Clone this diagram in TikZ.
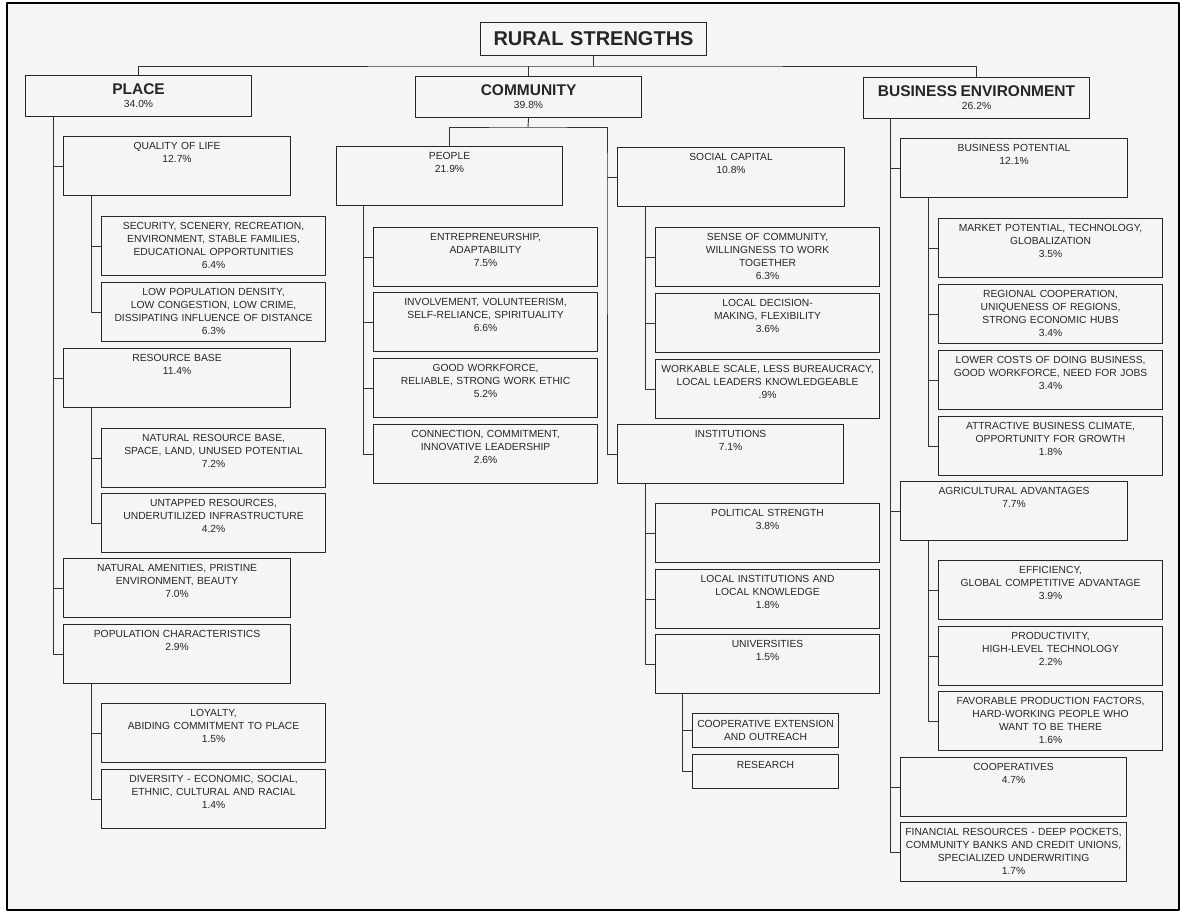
\documentclass[tikz,border=0pt]{standalone}
\usepackage{fontspec}
\setmainfont{Liberation Sans}
\begin{document}
\begin{tikzpicture}[x=1pt,y=-1pt,line join=round,
 box/.style={draw=black!85,line width=1.1pt,anchor=north west,inner sep=0pt,
  text width=#1pt,align=center,text height=13pt,text depth=46pt,text=black!85,
  font=\fontsize{10.3}{13}\selectfont},
 box/.default=224,
 head/.style={box=226,text height=19pt,text depth=22pt},
 small/.style={box=146,text height=14pt,text depth=20pt},
 ttl/.style={box=226,text height=23pt,text depth=10pt,font=\bfseries\fontsize{20}{24}\selectfont},
 link/.style={draw=black!80,line width=.9pt}]
 \fill[white,use as bounding box](0,0)rectangle(1186,913);
 \draw[line width=2.5pt,fill=black!4](7,3)rectangle(1179,910);

 \node[ttl](title) at (480,22){RURAL STRENGTHS};
 \node[head](place) at (25,75){{\bfseries\fontsize{15.5}{13}\selectfont PLACE}\\34.0\%};
 \node[head](comm) at (415,76){{\bfseries\fontsize{15.5}{13}\selectfont COMMUNITY}\\39.8\%};
 \node[head](busenv) at (863,77){{\bfseries\fontsize{15.5}{13}\selectfont BUSINESS ENVIRONMENT}\\26.2\%};

 \node[box=227](qol) at (63,136){QUALITY OF LIFE\\12.7\%};
 \node[box](security) at (101,216){SECURITY, SCENERY, RECREATION,\\ENVIRONMENT, STABLE FAMILIES,\\EDUCATIONAL OPPORTUNITIES\\6.4\%};
 \node[box](lowpop) at (101,282){LOW POPULATION DENSITY,\\LOW CONGESTION, LOW CRIME,\\DISSIPATING INFLUENCE OF DISTANCE\\6.3\%};
 \node[box=227](resbase) at (63,348){RESOURCE BASE\\11.4\%};
 \node[box](natres) at (101,428){NATURAL RESOURCE BASE,\\SPACE, LAND, UNUSED POTENTIAL\\7.2\%};
 \node[box](untapped) at (101,493){UNTAPPED RESOURCES,\\UNDERUTILIZED INFRASTRUCTURE\\4.2\%};
 \node[box=227](natamen) at (63,558){NATURAL AMENITIES, PRISTINE\\ENVIRONMENT, BEAUTY\\7.0\%};
 \node[box=227](popchar) at (63,624){POPULATION CHARACTERISTICS\\2.9\%};
 \node[box](loyalty) at (101,703){LOYALTY,\\ABIDING COMMITMENT TO PLACE\\1.5\%};
 \node[box](diversity) at (101,769){DIVERSITY - ECONOMIC, SOCIAL,\\ETHNIC, CULTURAL AND RACIAL\\1.4\%};

 \node[box=226](people) at (336,146){PEOPLE\\21.9\%};
 \node[box](entre) at (373,227){ENTREPRENEURSHIP,\\ADAPTABILITY\\7.5\%};
 \node[box](involve) at (373,292){INVOLVEMENT, VOLUNTEERISM,\\SELF-RELIANCE, SPIRITUALITY\\6.6\%};
 \node[box](goodwork) at (373,358){GOOD WORKFORCE,\\RELIABLE, STRONG WORK ETHIC\\5.2\%};
 \node[box](connect) at (373,424){CONNECTION, COMMITMENT,\\INNOVATIVE LEADERSHIP\\2.6\%};
 \node[box=227](social) at (617,147){SOCIAL CAPITAL\\10.8\%};
 \node[box](sense) at (655,227){SENSE OF COMMUNITY,\\WILLINGNESS TO WORK\\TOGETHER\\6.3\%};
 \node[box](localdec) at (655,293){LOCAL DECISION-\\MAKING, FLEXIBILITY\\3.6\%};
 \node[box](workable) at (655,359){WORKABLE SCALE, LESS BUREAUCRACY,\\LOCAL LEADERS KNOWLEDGEABLE\\.9\%};
 \node[box=226](inst) at (617,424){INSTITUTIONS\\7.1\%};
 \node[box](political) at (655,503){POLITICAL STRENGTH\\3.8\%};
 \node[box](localinst) at (655,569){LOCAL INSTITUTIONS AND\\LOCAL KNOWLEDGE\\1.8\%};
 \node[box](univ) at (655,634){UNIVERSITIES\\1.5\%};
 \node[small](coopext) at (692,713){COOPERATIVE EXTENSION\\AND OUTREACH};
 \node[small](research) at (692,754){RESEARCH};

 \node[box=227](buspot) at (900,138){BUSINESS POTENTIAL\\12.1\%};
 \node[box](market) at (938,218){MARKET POTENTIAL, TECHNOLOGY,\\GLOBALIZATION\\3.5\%};
 \node[box](regional) at (938,284){REGIONAL COOPERATION,\\UNIQUENESS OF REGIONS,\\STRONG ECONOMIC HUBS\\3.4\%};
 \node[box](lowercost) at (938,350){LOWER COSTS OF DOING BUSINESS,\\GOOD WORKFORCE, NEED FOR JOBS\\3.4\%};
 \node[box](attractive) at (938,416){ATTRACTIVE BUSINESS CLIMATE,\\OPPORTUNITY FOR GROWTH\\1.8\%};
 \node[box=227](agri) at (900,481){AGRICULTURAL ADVANTAGES\\7.7\%};
 \node[box](efficiency) at (938,560){EFFICIENCY,\\GLOBAL COMPETITIVE ADVANTAGE\\3.9\%};
 \node[box](productivity) at (938,626){PRODUCTIVITY,\\HIGH-LEVEL TECHNOLOGY\\2.2\%};
 \node[box](favorable) at (938,691){FAVORABLE PRODUCTION FACTORS,\\HARD-WORKING PEOPLE WHO\\WANT TO BE THERE\\1.6\%};
 \node[box=226](coops) at (900,757){COOPERATIVES\\4.7\%};
 \node[box=226](financial) at (900,822){FINANCIAL RESOURCES - DEEP POCKETS,\\COMMUNITY BANKS AND CREDIT UNIONS,\\SPECIALIZED UNDERWRITING\\1.7\%};

 \coordinate(bus) at (593,66);
 \coordinate(cbus) at (528,127);
 \draw[link](title.south)--(title.south|-bus);
 \draw[link](place.north)|-(bus)-|(busenv.north);
 \draw[link](comm.north)--(comm.north|-bus);
 \draw[link](comm.south)--(cbus);
 \draw[link](people.north)|-(cbus)-|([xshift=-10pt]social.west)|-(inst.west);

 \draw[link]([xshift=28pt]place.south west)|-(popchar.west);
 \draw[link]([xshift=28pt]qol.south west)|-(lowpop.west);
 \draw[link]([xshift=28pt]resbase.south west)|-(untapped.west);
 \draw[link]([xshift=28pt]popchar.south west)|-(diversity.west);
 \draw[link]([xshift=27pt]people.south west)|-(connect.west);
 \draw[link]([xshift=28pt]social.south west)|-(workable.west);
 \draw[link]([xshift=28pt]inst.south west)|-(univ.west);
 \draw[link]([xshift=27pt]univ.south west)|-(research.west);
 \draw[link]([xshift=27pt]busenv.south west)|-(financial.west);
 \draw[link]([xshift=28pt]buspot.south west)|-(attractive.west);
 \draw[link]([xshift=28pt]agri.south west)|-(favorable.west);
 \foreach \n in {qol,resbase,natamen,security,natres,loyalty,entre,involve,goodwork,
  social,sense,localdec,political,localinst,coopext,buspot,agri,coops,market,regional,
  lowercost,efficiency,productivity}
  \draw[link](\n.west)--++(-10,0);
\end{tikzpicture}
\end{document}
